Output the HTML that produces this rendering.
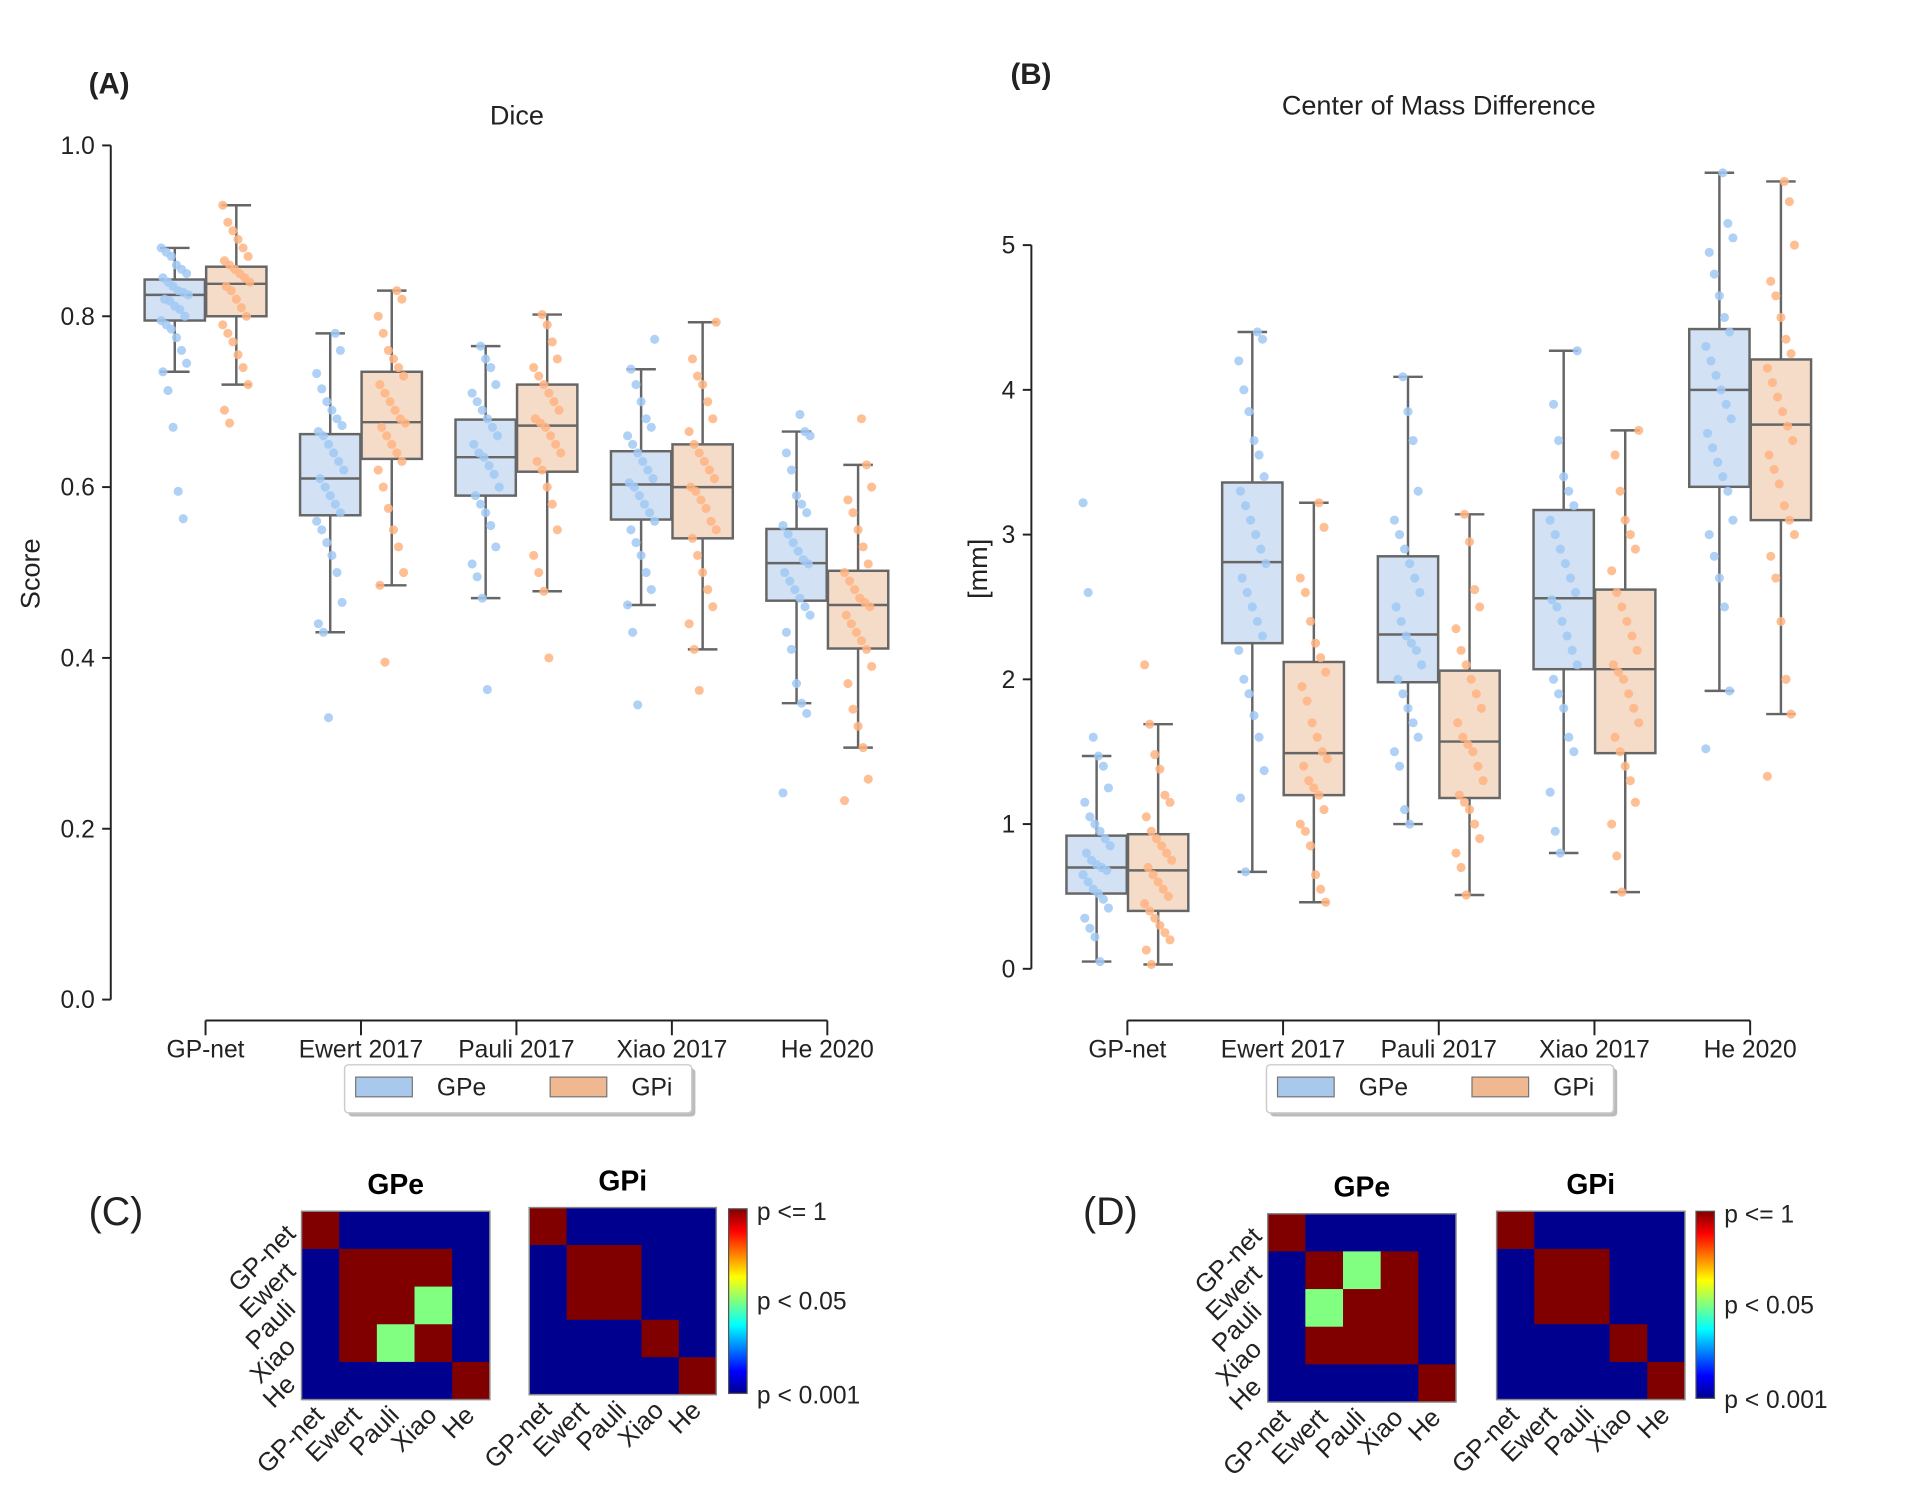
<!DOCTYPE html>
<html><head><meta charset="utf-8"><style>
html,body{margin:0;padding:0;background:#fff;}
svg{display:block;font-family:"Liberation Sans",sans-serif;}
</style></head><body>
<svg id="fig" width="1920" height="1497" viewBox="0 0 1560 1216" xmlns="http://www.w3.org/2000/svg"></svg>
<script>
const categories=["GP-net","Ewert 2017","Pauli 2017","Xiao 2017","He 2020"];
const shortNames=["GP-net","Ewert","Pauli","Xiao","He"];
// Dice stats [whiskLo, q1, med, q3, whiskHi]
const diceGPe=[[0.735,0.795,0.825,0.843,0.88],[0.43,0.567,0.61,0.662,0.78],[0.47,0.59,0.635,0.679,0.765],[0.462,0.562,0.603,0.642,0.738],[0.347,0.467,0.511,0.551,0.665]];
const diceGPi=[[0.72,0.80,0.838,0.858,0.93],[0.485,0.633,0.676,0.735,0.83],[0.478,0.618,0.672,0.72,0.802],[0.41,0.54,0.60,0.65,0.793],[0.295,0.411,0.462,0.502,0.626]];
const comGPe=[[0.05,0.52,0.70,0.92,1.47],[0.67,2.25,2.81,3.36,4.4],[1.0,1.98,2.31,2.85,4.09],[0.8,2.07,2.56,3.17,4.27],[1.92,3.33,4.0,4.42,5.5]];
const comGPi=[[0.03,0.40,0.68,0.93,1.69],[0.46,1.2,1.49,2.12,3.22],[0.51,1.18,1.57,2.06,3.14],[0.53,1.49,2.07,2.62,3.72],[1.76,3.1,3.76,4.21,5.44]];
const diceGPePts=[
[0.88,0.875,0.87,0.86,0.855,0.85,0.845,0.84,0.835,0.83,0.828,0.825,0.82,0.818,0.812,0.808,0.80,0.795,0.79,0.785,0.775,0.76,0.745,0.735,0.713,0.67,0.595,0.563],
[0.78,0.76,0.733,0.715,0.70,0.69,0.68,0.672,0.665,0.66,0.65,0.64,0.63,0.62,0.61,0.60,0.59,0.58,0.57,0.56,0.55,0.535,0.52,0.50,0.465,0.44,0.43,0.33],
[0.765,0.75,0.74,0.72,0.71,0.70,0.69,0.68,0.67,0.66,0.65,0.64,0.635,0.625,0.615,0.60,0.59,0.58,0.57,0.555,0.53,0.51,0.495,0.47,0.363],
[0.773,0.738,0.72,0.70,0.68,0.67,0.66,0.65,0.64,0.63,0.62,0.61,0.605,0.60,0.59,0.58,0.57,0.56,0.55,0.535,0.52,0.50,0.48,0.462,0.43,0.345],
[0.685,0.665,0.66,0.64,0.62,0.59,0.58,0.57,0.555,0.545,0.535,0.525,0.515,0.51,0.50,0.49,0.48,0.47,0.46,0.45,0.43,0.41,0.37,0.347,0.335,0.242]];
const diceGPiPts=[
[0.93,0.91,0.90,0.89,0.88,0.87,0.865,0.86,0.855,0.85,0.845,0.84,0.835,0.83,0.82,0.81,0.80,0.79,0.78,0.77,0.755,0.74,0.72,0.69,0.675],
[0.83,0.82,0.80,0.78,0.76,0.75,0.74,0.73,0.72,0.71,0.70,0.69,0.68,0.675,0.67,0.66,0.65,0.64,0.63,0.62,0.60,0.575,0.55,0.53,0.50,0.485,0.395],
[0.802,0.79,0.77,0.75,0.74,0.73,0.72,0.71,0.70,0.69,0.68,0.675,0.67,0.66,0.65,0.64,0.63,0.62,0.60,0.58,0.55,0.52,0.50,0.478,0.40],
[0.793,0.75,0.73,0.72,0.70,0.68,0.665,0.65,0.64,0.63,0.62,0.61,0.60,0.595,0.585,0.575,0.56,0.55,0.54,0.52,0.50,0.48,0.46,0.44,0.41,0.362],
[0.68,0.626,0.60,0.585,0.57,0.55,0.53,0.51,0.50,0.49,0.48,0.47,0.465,0.46,0.45,0.44,0.43,0.42,0.41,0.39,0.37,0.34,0.32,0.295,0.258,0.233]];
const comGPePts=[
[3.22,2.6,1.6,1.47,1.4,1.25,1.15,1.05,1.0,0.95,0.9,0.85,0.8,0.75,0.72,0.7,0.68,0.65,0.6,0.55,0.52,0.48,0.42,0.35,0.28,0.22,0.05],
[4.4,4.35,4.2,4.0,3.85,3.65,3.55,3.4,3.3,3.2,3.1,3.0,2.9,2.8,2.7,2.6,2.5,2.4,2.3,2.2,2.0,1.9,1.75,1.6,1.37,1.18,0.67],
[4.09,3.85,3.65,3.3,3.1,3.0,2.9,2.8,2.7,2.6,2.5,2.4,2.3,2.25,2.2,2.1,2.0,1.9,1.8,1.7,1.6,1.5,1.4,1.1,1.0],
[4.27,3.9,3.65,3.4,3.3,3.2,3.1,3.0,2.9,2.8,2.7,2.6,2.55,2.5,2.4,2.3,2.2,2.1,2.0,1.9,1.8,1.6,1.5,1.22,0.95,0.8],
[5.5,5.15,5.05,4.95,4.8,4.65,4.5,4.4,4.3,4.2,4.1,4.0,3.9,3.8,3.7,3.6,3.5,3.4,3.3,3.1,3.0,2.85,2.7,2.5,1.92,1.52]];
const comGPiPts=[
[2.1,1.69,1.48,1.38,1.2,1.15,1.05,0.95,0.9,0.85,0.8,0.75,0.7,0.65,0.6,0.55,0.5,0.45,0.4,0.35,0.3,0.25,0.2,0.13,0.03],
[3.22,3.05,2.7,2.6,2.4,2.25,2.15,2.05,1.95,1.85,1.7,1.6,1.5,1.45,1.4,1.3,1.25,1.2,1.1,1.0,0.95,0.85,0.65,0.55,0.46],
[3.14,2.95,2.62,2.5,2.35,2.2,2.1,2.0,1.9,1.8,1.7,1.6,1.55,1.5,1.4,1.3,1.2,1.15,1.1,1.0,0.9,0.8,0.7,0.51],
[3.72,3.55,3.3,3.1,3.0,2.9,2.75,2.6,2.5,2.4,2.3,2.2,2.1,2.05,2.0,1.9,1.8,1.7,1.6,1.5,1.4,1.3,1.15,1.0,0.78,0.53],
[5.44,5.3,5.0,4.75,4.65,4.5,4.35,4.25,4.15,4.05,3.95,3.85,3.75,3.65,3.55,3.45,3.35,3.2,3.1,3.0,2.85,2.7,2.4,2.0,1.76,1.33]];
const diceTicks=[0,0.2,0.4,0.6,0.8,1.0];
const diceTickLabels=["0.0","0.2","0.4","0.6","0.8","1.0"];
const comTicks=[0,1,2,3,4,5];
const comTickLabels=["0","1","2","3","4","5"];
// heatmaps: 1 = p<=1 (red), 0.5 = p<0.05 (green), 0 = p<0.001 (blue)
const heatCGPe=[[1,0,0,0,0],[0,1,1,1,0],[0,1,1,0.5,0],[0,1,0.5,1,0],[0,0,0,0,1]];
const heatCGPi=[[1,0,0,0,0],[0,1,1,0,0],[0,1,1,0,0],[0,0,0,1,0],[0,0,0,0,1]];
const heatDGPe=[[1,0,0,0,0],[0,1,0.5,1,0],[0,0.5,1,1,0],[0,1,1,1,0],[0,0,0,0,1]];
const heatDGPi=[[1,0,0,0,0],[0,1,1,0,0],[0,1,1,0,0],[0,0,0,1,0],[0,0,0,0,1]];

const NS="http://www.w3.org/2000/svg";
const svg=document.getElementById('fig');
function mk(tag,attrs,parent,txt){const e=document.createElementNS(NS,tag);for(const k in attrs)e.setAttribute(k,attrs[k]);if(txt!==undefined)e.textContent=txt;(parent||svg).appendChild(e);return e;}

function boxPanel(cfg){
  const g=mk('g',{});
  
  
  const y=v=>cfg.y0-(v-cfg.vmin)/(cfg.vmax-cfg.vmin)*(cfg.y0-cfg.y1);
  const x=i=>cfg.xc0+i*cfg.step;
  const ya=mk('line',{x1:cfg.ax,y1:y(cfg.ticks[cfg.ticks.length-1]),x2:cfg.ax,y2:cfg.y0,stroke:'#222','stroke-width':1.6},g);
  
  
  cfg.ticks.forEach((t,i)=>{
    mk('line',{x1:cfg.ax-7,y1:y(t),x2:cfg.ax,y2:y(t),stroke:'#222','stroke-width':1.6},g);
    const tl=mk('text',{x:cfg.ax-13,y:y(t)+7,'text-anchor':'end','font-size':20,fill:'#222'},g,cfg.tickLabels[i]);
    
    
  });
  const xa=mk('line',{x1:x(0),y1:829,x2:x(4),y2:829,stroke:'#222','stroke-width':1.6},g);
  
  
  categories.forEach((c,i)=>{
    mk('line',{x1:x(i),y1:829,x2:x(i),y2:841,stroke:'#222','stroke-width':1.6},g);
    const tl=mk('text',{x:x(i),y:859,'text-anchor':'middle','font-size':20,fill:'#222'},g,c);
    
    
  });
  const series=[{st:cfg.gpe,pts:cfg.gpePts,off:-25,fill:'#d2e1f3',pt:'#a1c9f4',n:'gpe'},{st:cfg.gpi,pts:cfg.gpiPts,off:25,fill:'#f5dcc9',pt:'#ffb482',n:'gpi'}];
  series.forEach(s=>{
    s.st.forEach((b,i)=>{
      const cx=x(i)+s.off,w=49;
      const bg=mk('g',{},g);
      
      
      mk('line',{x1:cx,y1:y(b[0]),x2:cx,y2:y(b[1]),stroke:'#666','stroke-width':2},bg);
      mk('line',{x1:cx,y1:y(b[3]),x2:cx,y2:y(b[4]),stroke:'#666','stroke-width':2},bg);
      mk('line',{x1:cx-12,y1:y(b[0]),x2:cx+12,y2:y(b[0]),stroke:'#666','stroke-width':2},bg);
      mk('line',{x1:cx-12,y1:y(b[4]),x2:cx+12,y2:y(b[4]),stroke:'#666','stroke-width':2},bg);
      mk('rect',{x:cx-w/2,y:y(b[3]),width:w,height:y(b[1])-y(b[3]),fill:s.fill,stroke:'#666','stroke-width':2},bg);
      mk('line',{x1:cx-w/2,y1:y(b[2]),x2:cx+w/2,y2:y(b[2]),stroke:'#666','stroke-width':2},bg);
      s.pts[i].forEach((v,k)=>{
        const jx=(((k*37+i*11)%17)/16-0.5)*22;
        const p=mk('circle',{cx:cx+jx,cy:y(v),r:3.7,fill:s.pt,'fill-opacity':0.85},bg);
        
        
      });
    });
  });
  const lg=mk('g',{},g);
  
  
  const lx=cfg.legX;
  mk('rect',{x:lx+3,y:868,width:282,height:39,rx:3,fill:'#bbb'},lg);
  mk('rect',{x:lx,y:865,width:282,height:39,rx:3,fill:'#fff',stroke:'#ccc','stroke-width':1.2},lg);
  const e1=mk('g',{},lg);
  
  
  mk('rect',{x:lx+9,y:875,width:46,height:16,fill:'#a9c9ec',stroke:'#777','stroke-width':1},e1);
  mk('text',{x:lx+75,y:890,'font-size':20,fill:'#222'},e1,'GPe');
  const e2=mk('g',{},lg);
  
  
  mk('rect',{x:lx+167,y:875,width:46,height:16,fill:'#f0b890',stroke:'#777','stroke-width':1},e2);
  mk('text',{x:lx+233,y:890,'font-size':20,fill:'#222'},e2,'GPi');
}
boxPanel({name:'dice-chart',ax:90,y0:812,y1:118,vmin:0,vmax:1,ticks:diceTicks,tickLabels:diceTickLabels,xc0:167,step:126.3,gpe:diceGPe,gpi:diceGPi,gpePts:diceGPePts,gpiPts:diceGPiPts,legX:280});
boxPanel({name:'com-chart',ax:838,y0:787,y1:199,vmin:0,vmax:5,ticks:comTicks,tickLabels:comTickLabels,xc0:916,step:126.5,gpe:comGPe,gpi:comGPi,gpePts:comGPePts,gpiPts:comGPiPts,legX:1029});

function txt(x,y,s,size,name,extra){const t=mk('text',Object.assign({x:x,y:y,'font-size':size,fill:'#222'},extra||{}),svg,s);return t;}
txt(72,76,'(A)',24,'panel-label-a',{'font-weight':'bold'});
txt(420,101,'Dice',22,'chart-title-dice',{'text-anchor':'middle'});
txt(32,466,'Score',22,'y-axis-title-score',{'text-anchor':'middle',transform:'rotate(-90 32 466)'});
txt(821,68,'(B)',24,'panel-label-b',{'font-weight':'bold'});
txt(1169,93,'Center of Mass Difference',22,'chart-title-com',{'text-anchor':'middle'});
txt(802,462,'[mm]',22,'y-axis-title-mm',{'text-anchor':'middle',transform:'rotate(-90 802 462)'});

const jet={1:'#800000',0.5:'#80ff80',0:'#00008f'};
function heat(mat,x0,y0,size,title,name,ylabels){
  const g=mk('g',{});
  
  
  const c=size/5;
  mat.forEach((row,r)=>row.forEach((v,k)=>{
    const cell=mk('rect',{x:x0+k*c,y:y0+r*c,width:c+0.4,height:c+0.4,fill:jet[v]},g);
    
    
  }));
  mk('rect',{x:x0,y:y0,width:size,height:size,fill:'none',stroke:'#888','stroke-width':1.2},g);
  mk('text',{x:x0+size/2,y:y0-14,'text-anchor':'middle','font-size':23,'font-weight':'bold',fill:'#000'},g,title);
  shortNames.forEach((n,i)=>{
    if(ylabels){
      const yy=y0+c*(i+0.5),xx=x0-8;
      mk('text',{x:xx,y:yy+6,'text-anchor':'end','font-size':21,fill:'#222',transform:`rotate(-45 ${xx} ${yy})`},g,n);
    }
    const xx=x0+c*(i+0.5)+4,yy=y0+size+14;
    mk('text',{x:xx,y:yy,'text-anchor':'end','font-size':21,fill:'#222',transform:`rotate(-45 ${xx} ${yy})`},g,n);
  });
}
function cbar(x0,y0,h,name){
  const g=mk('g',{});
  
  
  mk('rect',{x:x0,y:y0,width:15,height:h,fill:'url(#jetgrad)',stroke:'#555','stroke-width':1},g);
  mk('text',{x:x0+23,y:y0+9,'font-size':20,fill:'#222'},g,'p <= 1');
  mk('text',{x:x0+23,y:y0+h/2+7,'font-size':20,fill:'#222'},g,'p < 0.05');
  mk('text',{x:x0+23,y:y0+h+8,'font-size':20,fill:'#222'},g,'p < 0.001');
}
const defs=mk('defs',{});
const lg=mk('linearGradient',{id:'jetgrad',x1:0,y1:1,x2:0,y2:0},defs);
[['0','#00008f'],['0.12','#0000ff'],['0.37','#00ffff'],['0.5','#80ff80'],['0.63','#ffff00'],['0.88','#ff0000'],['1','#800000']].forEach(s=>mk('stop',{offset:s[0],'stop-color':s[1]},lg));

txt(72,995,'(C)',32,'panel-label-c');
heat(heatCGPe,245,984,153,'GPe','heatmap-c-gpe',true);
heat(heatCGPi,430,981,152,'GPi','heatmap-c-gpi',false);
cbar(592,982,150,'colorbar-c');
txt(880,995,'(D)',32,'panel-label-d');
heat(heatDGPe,1030,986,153,'GPe','heatmap-d-gpe',true);
heat(heatDGPi,1216,984,153,'GPi','heatmap-d-gpi',false);
cbar(1378,984,152,'colorbar-d');
</script>
</body></html>
